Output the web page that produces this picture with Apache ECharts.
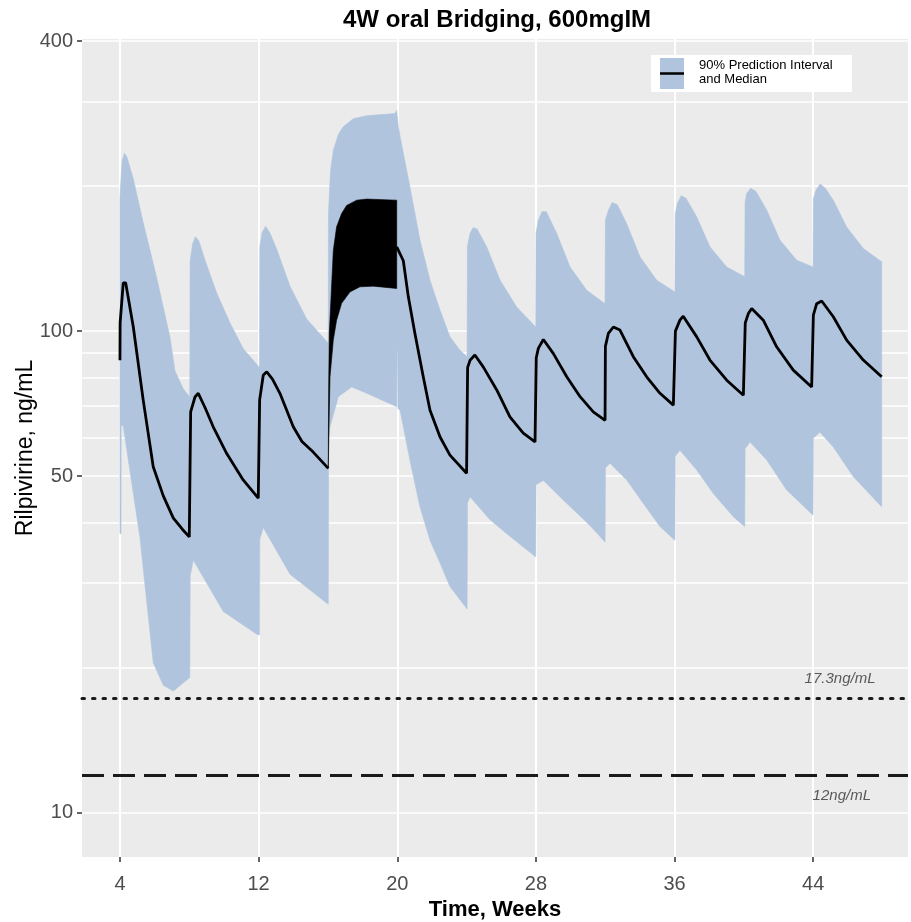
<!DOCTYPE html>
<html>
<head>
<meta charset="utf-8">
<script src="https://cdn.jsdelivr.net/npm/echarts@6/dist/echarts.min.js"></script>
<style>
  html, body { margin: 0; padding: 0; background: #fff; }
  #chart { width: 911px; height: 922px; }
</style>
</head>
<body>
<div id="chart"></div>
<script>
// axis breaks
var xTickValues = [4, 12, 20, 28, 36, 44];
var yTickValues = [10, 50, 100, 400];
var yGridValues = [10, 20, 30, 40, 50, 60, 70, 80, 90, 100, 200, 300, 400];

// reference concentrations
var refLines = [17.3, 12];
var refLabels = ["17.3ng/mL", "12ng/mL"];

// median, injections weeks 4-16 [week, ng/mL]
var medianPre = [
    [4.0, 87], [4.01, 104], [4.19, 126], [4.33, 126], [4.77, 102], [5.34, 72],
    [5.92, 52.3], [6.5, 45.5], [7.08, 40.9], [7.6, 38.8], [8.0, 37.4], [8.06, 37.4],
    [8.08, 68], [8.33, 73], [8.52, 74.3], [8.9, 69.5], [9.38, 63.3], [10.16, 55.7],
    [11.11, 49.1], [11.98, 45],
    [12.04, 45], [12.06, 72], [12.27, 81.1], [12.47, 82.3], [12.8, 79.5],
    [13.23, 74.3], [14.0, 63.3], [14.5, 59], [15.15, 56.1], [16.02, 51.9]
];

// median during oral bridging: daily peak / trough envelopes
var oralPeak = [
    [16.02, 51.9], [16.04, 75], [16.08, 99], [16.31, 147], [16.5, 164.6],
    [16.79, 175.4], [17.08, 182.4], [17.66, 187], [18.24, 188], [19.97, 187]
];
var oralTrough = [
    [16.02, 51.9], [16.08, 68.6], [16.12, 80.4], [16.31, 95.8], [16.5, 105.4],
    [16.79, 114.2], [17.27, 120.6], [17.85, 123.6], [18.62, 124], [19.97, 122.6]
];

// median after bridging, weeks 20-48
var medianPost = [
    [19.97, 149.6], [20.35, 140], [20.64, 117.8], [21.02, 98.9], [21.5, 80.4],
    [21.89, 68.5], [22.47, 60.3], [23.04, 55.3], [24.0, 50.7], [24.04, 50.7],
    [24.06, 84], [24.2, 87], [24.48, 89.2], [24.96, 84.3], [25.74, 75.5],
    [26.5, 66.4], [27.27, 61.4], [27.95, 58.9], [28.0, 58.9], [28.02, 88],
    [28.14, 92.1], [28.43, 96.1], [29.0, 89.9], [29.78, 80.4], [30.55, 73.1],
    [31.31, 68], [31.99, 65.3], [32.01, 93], [32.18, 98.9], [32.47, 102],
    [32.85, 100.5], [33.62, 88.5], [34.39, 80.4], [35.16, 74.3], [35.93, 70.2],
    [36.03, 70.2], [36.05, 100], [36.31, 105.4], [36.5, 107.4], [37.28, 97.3],
    [38.04, 87.1], [39.01, 79.1], [39.97, 73.6], [40.06, 73.6], [40.08, 104],
    [40.26, 108.8], [40.45, 111.4], [41.12, 105.4], [41.89, 92.8], [42.85, 83],
    [43.91, 76.6], [43.99, 76.6], [44.01, 108], [44.2, 114], [44.49, 115.5],
    [45.16, 107.1], [45.93, 95.8], [46.89, 87.1], [47.95, 80.4]
];

// 90% prediction interval, upper bound
var bandUpper = [
    [4.0, 190], [4.12, 225], [4.25, 234], [4.4, 230], [4.77, 207], [5.34, 168],
    [6.12, 129], [6.89, 97], [7.17, 82.8], [7.65, 75.9], [8.03, 73],
    [8.05, 140], [8.2, 152], [8.35, 157], [8.55, 154], [8.9, 140.6], [9.58, 120],
    [10.35, 104], [11.11, 92], [12.05, 84],
    [12.07, 150], [12.2, 160], [12.4, 165], [12.65, 160], [13.04, 148], [13.81, 124],
    [14.77, 106], [15.73, 97], [16.02, 94.4],
    [16.03, 175], [16.15, 215], [16.31, 237], [16.6, 256], [16.88, 265.5],
    [17.46, 276], [18.24, 280], [19.87, 283], [19.97, 287],
    [20.06, 265.6], [20.35, 234], [20.73, 199.5], [21.31, 154.5], [21.89, 127.6],
    [22.47, 110.5], [23.04, 97.3], [23.62, 91.3], [24.03, 88.5],
    [24.05, 150], [24.2, 159.6], [24.38, 164], [24.6, 163], [25.16, 149.6],
    [25.93, 127.6], [26.89, 112.2], [27.99, 102],
    [28.01, 160], [28.14, 169.8], [28.35, 177], [28.6, 177], [29.2, 159.6],
    [29.97, 135.9], [30.93, 121.6], [31.99, 114],
    [32.01, 170], [32.18, 178], [32.4, 185], [32.7, 183], [33.24, 167],
    [34.01, 142.6], [34.97, 127.6], [36.02, 120.6],
    [36.04, 175], [36.16, 184], [36.38, 191], [36.65, 189], [37.28, 172.6],
    [38.04, 149.6], [39.01, 135.9], [40.05, 129.7],
    [40.07, 185], [40.16, 193], [40.4, 198], [40.7, 195], [41.32, 178.3],
    [42.08, 154.5], [43.05, 140.3], [43.99, 135.9],
    [44.01, 188], [44.16, 196], [44.4, 202], [44.7, 198], [45.16, 187],
    [45.93, 164.5], [46.89, 148.5], [47.95, 139.3]
];

// 90% prediction interval, lower bound
var bandLower = [
    [4.0, 38], [4.06, 38], [4.07, 64], [4.19, 63.5], [5.15, 37.4], [5.92, 20.5],
    [6.5, 18.4], [7.08, 17.9], [8.03, 19.1],
    [8.05, 31], [8.23, 33.5], [9.96, 26.2], [11.89, 23.5], [12.05, 23.4],
    [12.07, 37], [12.27, 39.1], [13.81, 31.3], [16.02, 27.1],
    [16.04, 60], [16.12, 63.3], [16.6, 73.1], [17.37, 76.6], [18.24, 74.3],
    [19.97, 69.7], [19.99, 91], [20.02, 91], [20.04, 69],
    [20.16, 68.6], [20.73, 54], [21.31, 43.2], [21.89, 36.8], [22.47, 33],
    [23.04, 29.5], [24.03, 26.5],
    [24.05, 44], [24.2, 45.3], [25.35, 40.6], [26.5, 37.5], [27.99, 34],
    [28.01, 48], [28.43, 49], [29.58, 44.6], [31.12, 39.5], [31.99, 36.5],
    [32.01, 52], [32.27, 53.2], [33.24, 49.1], [34.2, 43.9], [35.16, 39.3],
    [36.02, 36.8],
    [36.04, 55], [36.31, 56.6], [37.28, 51.5], [38.24, 46], [39.39, 41.2],
    [40.05, 39.3],
    [40.07, 57], [40.35, 58.9], [41.32, 54], [42.47, 46.8], [43.99, 41.5],
    [44.01, 60], [44.39, 61.7], [45.16, 57.5], [46.31, 49.9], [47.95, 43.2]
];

var FONT = "Liberation Sans, Arial, sans-serif";
var BAND_COLOR = "#B0C4DE";

// filled region between two curves, drawn through the axes
function ribbon(name, upper, lower, color) {
    return {
        name: name,
        type: "custom",
        silent: true,
        clip: true,
        data: [upper[0]],
        renderItem: function(params, api) {
            var pts = upper.map(function(p) { return api.coord(p); });
            var back = lower.slice().reverse().map(function(p) { return api.coord(p); });
            return {
                type: "polygon",
                shape: { points: pts.concat(back) },
                style: { fill: color, stroke: color, lineWidth: 0.6 }
            };
        }
    };
}

function medianLine(data) {
    return {
        type: "line",
        data: data,
        symbol: "none",
        silent: true,
        lineStyle: { color: "#000", width: 2.8 },
        z: 4
    };
}

var chart = echarts.init(document.getElementById("chart"));

var option = {
    animation: false,
    backgroundColor: "#fff",
    title: {
        text: "4W oral Bridging, 600mgIM",
        left: 338,
        top: 3,
        textStyle: { fontFamily: FONT, fontSize: 24, fontWeight: "bold", color: "#000" }
    },
    grid: {
        left: 82, right: 3, top: 39, bottom: 65,
        outerBoundsMode: "none",
        show: true, backgroundColor: "#EBEBEB", borderWidth: 0
    },
    xAxis: {
        type: "value",
        min: 1.81,
        max: 49.47,
        name: "Time, Weeks",
        nameLocation: "middle",
        nameGap: 37,
        nameTextStyle: { fontFamily: FONT, fontSize: 22, fontWeight: "bold", color: "#000" },
        axisLine: { show: false },
        axisTick: { show: true, length: 5, customValues: xTickValues, lineStyle: { color: "#333", width: 1.5 } },
        axisLabel: { customValues: xTickValues, margin: 17, fontFamily: FONT, fontSize: 20, color: "#4D4D4D" },
        splitLine: { show: true, lineStyle: { color: "#fff", width: 2 } }
    },
    yAxis: [{
        type: "log",
        logBase: 10,
        min: 8.1,
        max: 404,
        axisLine: { show: false },
        axisTick: { show: false, customValues: yGridValues },
        axisLabel: { show: false },
        splitLine: { show: true, lineStyle: { color: "#fff", width: 1.5 } }
    }, {
        type: "log",
        logBase: 10,
        min: 8.1,
        max: 404,
        position: "left",
        name: "Rilpivirine, ng/mL",
        nameLocation: "middle",
        nameGap: 45,
        nameMoveOverlap: false,
        nameTextStyle: { fontFamily: FONT, fontSize: 23, color: "#000" },
        axisLine: { show: false },
        axisTick: { show: true, length: 5, customValues: yTickValues, lineStyle: { color: "#333", width: 1.5 } },
        axisLabel: { customValues: yTickValues, margin: 9, fontFamily: FONT, fontSize: 20, color: "#4D4D4D" },
        splitLine: { show: false }
    }],
    series: [
        ribbon("90% Prediction Interval", bandUpper, bandLower, BAND_COLOR),
        ribbon("oral", oralPeak, oralTrough, "#000"),
        medianLine(medianPre),
        medianLine(medianPost),
        {
            type: "line",
            data: [],
            silent: true,
            markLine: {
                silent: true,
                symbol: "none",
                label: { show: false },
                data: [
                    { yAxis: refLines[0], lineStyle: { color: "#1a1a1a", width: 3, type: [2.5, 8], cap: "round" } },
                    { yAxis: refLines[1], lineStyle: { color: "#1a1a1a", width: 3, type: [22, 9] } }
                ]
            }
        },
        {
            type: "scatter",
            silent: true,
            symbolSize: 0,
            data: [
                { value: [45.55, 19.0], name: refLabels[0] },
                { value: [45.65, 10.85], name: refLabels[1] }
            ],
            label: {
                show: true,
                position: "inside",
                formatter: "{b}",
                fontFamily: FONT,
                fontSize: 15,
                fontStyle: "italic",
                color: "#333"
            }
        }
    ],
    graphic: [
        { type: "rect", shape: { x: 651, y: 55, width: 201, height: 37 }, style: { fill: "#fff" }, z: 10 },
        { type: "rect", shape: { x: 660, y: 58, width: 24, height: 31 }, style: { fill: BAND_COLOR }, z: 11 },
        { type: "line", shape: { x1: 660, y1: 73.5, x2: 684, y2: 73.5 }, style: { stroke: "#000", lineWidth: 2.5 }, z: 12 },
        {
            type: "text", z: 12,
            style: {
                x: 699, y: 58,
                text: "90% Prediction Interval\nand Median",
                font: "13px " + FONT,
                lineHeight: 14,
                fill: "#000"
            }
        }
    ]
};

chart.setOption(option);
</script>
</body>
</html>
